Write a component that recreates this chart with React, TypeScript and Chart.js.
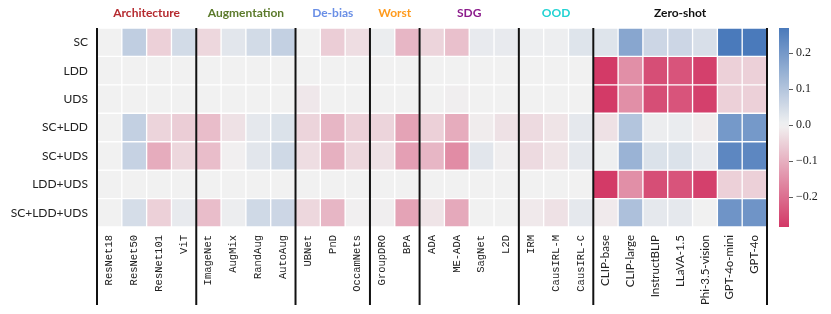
import React, { useEffect, useRef } from "react";
import { Chart, registerables } from "chart.js";
Chart.register(...registerables);

const rows = ["SC", "LDD", "UDS", "SC+LDD", "SC+UDS", "LDD+UDS", "SC+LDD+UDS"];
const models = [
  "ResNet18", "ResNet50", "ResNet101", "ViT",
  "ImageNet", "AugMix", "RandAug", "AutoAug",
  "UBNet", "PnD", "OccamNets",
  "GroupDRO", "BPA",
  "ADA", "ME-ADA", "SagNet", "L2D",
  "IRM", "CausIRL-M", "CausIRL-C",
  "CLIP-base", "CLIP-large", "InstructBLIP", "LLaVA-1.5", "Phi-3.5-vision", "GPT-4o-mini", "GPT-4o",
];
const groups = ["Architecture", "Augmentation", "De-bias", "Worst", "SDG", "OOD", "Zero-shot"];
const groupSizes = [4, 4, 3, 2, 4, 3, 7];
const groupColors = ["#b52a2f", "#5b7a2b", "#6a8fe6", "#ff9a1c", "#8c1c8c", "#22d3d3", "#111111"];
const zeroShotStart = 20;

const scRow = [0, 0.08, -0.05, 0.05, -0.04, 0.025, 0.05, 0.075, 0, -0.055, -0.03, 0.01, -0.09, -0.045, -0.075, 0.015, 0.015, 0.007, 0.007, 0.03, 0.03, 0.17, 0.06, 0.06, 0.04, 0.27, 0.27];
const lddRow = [0, 0, 0, 0, 0, 0, 0, 0, 0, 0, 0, 0, 0, 0, 0, 0, 0, 0, 0, 0, -0.28, -0.15, -0.25, -0.24, -0.27, -0.05, -0.05];
const udsRow = [0, 0, 0, 0, 0, 0, 0, 0, -0.015, 0, 0, 0, 0, 0, -0.005, 0, 0, 0, 0, 0, -0.28, -0.15, -0.25, -0.24, -0.27, -0.05, -0.05];
const scLddRow = [0, 0.075, -0.045, -0.055, -0.08, -0.025, 0.02, 0.035, -0.045, -0.09, -0.05, -0.045, -0.12, -0.05, -0.105, -0.008, -0.025, -0.035, -0.02, 0.02, -0.025, 0.1, 0.008, 0.012, -0.008, 0.2, 0.2];
const scUdsRow = [0, 0.07, -0.105, -0.04, -0.08, -0.003, 0.025, 0.055, -0.03, -0.1, -0.04, -0.025, -0.125, -0.09, -0.155, 0.025, -0.005, -0.035, -0.02, 0.02, 0.005, 0.14, 0.035, 0.035, 0.015, 0.24, 0.24];
const lddUdsRow = [0, 0, 0, 0, 0, 0, 0, 0, 0, 0, 0, 0, 0, 0, 0, 0, 0, 0, 0, 0, -0.28, -0.15, -0.25, -0.24, -0.27, -0.05, -0.05];
const allRow = [0, 0.045, -0.05, 0.015, -0.08, 0.008, 0.055, 0.06, -0.04, -0.09, -0.003, -0.005, -0.12, -0.02, -0.11, 0, 0, -0.012, -0.025, 0.02, -0.01, 0.11, 0.02, 0.02, 0, 0.21, 0.21];
const rowValues = [scRow, lddRow, udsRow, scLddRow, scUdsRow, lddUdsRow, allRow];

const colorbarTicks = [-0.2, -0.1, 0, 0.1, 0.2];
const vmin = -0.283;
const vmax = 0.27;

const NEG = [211, 56, 102];
const MID = [241, 241, 241];
const POS = [66, 116, 184];
function colorFor(v: number): string {
  const vr = 0.283;
  const t = Math.max(-1, Math.min(1, v / vr));
  const end = t < 0 ? NEG : POS;
  const a = Math.abs(t);
  const c = MID.map((m, i) => Math.round(m + (end[i] - m) * a));
  return `rgb(${c[0]},${c[1]},${c[2]})`;
}

const overlayPlugin = {
  id: "overlay",
  afterDraw(chart: any) {
    const { ctx, chartArea } = chart;
    const x = chart.scales.x;
    const w = (x.right - x.left) / models.length;
    ctx.save();
    let idx = 0;
    const bounds = [0];
    groupSizes.forEach((s) => { idx += s; bounds.push(idx); });
    ctx.strokeStyle = "#111";
    ctx.lineWidth = 2;
    bounds.forEach((b) => {
      const px = x.left + b * w;
      ctx.beginPath();
      ctx.moveTo(px, chartArea.top);
      ctx.lineTo(px, 305);
      ctx.stroke();
    });
    ctx.font = "bold 12px Lato";
    ctx.textAlign = "center";
    ctx.textBaseline = "middle";
    let start = 0;
    groups.forEach((g, i) => {
      const cx = x.left + (start + groupSizes[i] / 2) * w;
      ctx.fillStyle = groupColors[i];
      ctx.fillText(g, cx, 13);
      start += groupSizes[i];
    });
    ctx.restore();
  },
};

const gradientPlugin = {
  id: "cbgrad",
  beforeDatasetsDraw(chart: any) {
    const { ctx, chartArea } = chart;
    const y = chart.scales.y;
    const top = y.getPixelForValue(vmax);
    const bot = y.getPixelForValue(vmin);
    const g = ctx.createLinearGradient(0, top, 0, bot);
    const n = 40;
    for (let i = 0; i <= n; i++) {
      const v = vmax - (i / n) * (vmax - vmin);
      g.addColorStop(i / n, colorFor(v));
    }
    ctx.save();
    ctx.fillStyle = g;
    ctx.fillRect(chartArea.left, top, chartArea.right - chartArea.left, bot - top);
    ctx.restore();
  },
};

export default function App() {
  const mainRef = useRef<HTMLCanvasElement>(null);
  const cbRef = useRef<HTMLCanvasElement>(null);

  useEffect(() => {
    const datasets = rowValues.map((vals, r) => ({
      label: rows[r],
      data: vals.map(() => [rows.length - 1 - r, rows.length - r]),
      backgroundColor: vals.map(colorFor),
      borderColor: "#ffffff",
      borderWidth: 1,
      borderSkipped: false,
      grouped: false,
      barPercentage: 1,
      categoryPercentage: 1,
    }));
    const main = new Chart(mainRef.current!, {
      type: "bar",
      data: { labels: models, datasets: datasets as any },
      options: {
        animation: false,
        responsive: false,
        events: [],
        layout: { padding: { top: 28, right: 64, left: 0, bottom: 0 } },
        plugins: { legend: { display: false }, tooltip: { enabled: false } },
        scales: {
          x: {
            type: "category",
            grid: { display: false, drawTicks: false },
            border: { display: false },
            afterFit: (s: any) => { s.height = 87; },
            ticks: {
              autoSkip: false,
              maxRotation: 90,
              minRotation: 90,
              padding: 8,
              color: "#222",
              font: (ctx: any) =>
                ctx.index >= zeroShotStart
                  ? { family: "Lato", size: 11.5 }
                  : { family: "Liberation Mono", size: 10.5 },
            },
          },
          y: {
            type: "linear",
            min: 0,
            max: rows.length,
            grid: { display: false, drawTicks: false },
            border: { display: false },
            afterFit: (s: any) => { s.width = 97; },
            afterBuildTicks: (s: any) => {
              s.ticks = rows.map((_, i) => ({ value: i + 0.5 }));
            },
            ticks: {
              padding: 9,
              color: "#222",
              font: { family: "Lato", size: 12 },
              callback: (v: any) => rows[rows.length - 1 - Math.floor(Number(v))],
            },
          },
        },
      },
      plugins: [overlayPlugin],
    });

    const cb = new Chart(cbRef.current!, {
      type: "bar",
      data: { labels: [""], datasets: [] },
      options: {
        animation: false,
        responsive: false,
        events: [],
        layout: { padding: { top: 28, bottom: 87, left: 0, right: 0 } },
        plugins: { legend: { display: false }, tooltip: { enabled: false } },
        scales: {
          x: { display: false },
          y: {
            type: "linear",
            position: "right",
            min: vmin,
            max: vmax,
            afterFit: (s: any) => { s.width = 42; },
            afterBuildTicks: (s: any) => {
              s.ticks = colorbarTicks.map((v) => ({ value: v }));
            },
            grid: { display: true, drawOnChartArea: false, drawTicks: true, tickLength: 4, color: "#333", lineWidth: 0.8 },
            border: { display: false },
            ticks: {
              padding: 3,
              color: "#222",
              font: { family: "Liberation Serif", size: 12 },
              callback: (v: any) => {
                const n = Number(v);
                const s = Math.abs(n).toFixed(1);
                return n < -1e-9 ? "\u2212" + s : s;
              },
            },
          },
        },
      },
      plugins: [gradientPlugin],
    });

    return () => {
      main.destroy();
      cb.destroy();
    };
  }, []);

  return (
    <div style={{ position: "fixed", left: 0, top: 0, width: 831, height: 314, background: "#fff" }}>
      <canvas ref={mainRef} width={831} height={314} style={{ position: "absolute", left: 0, top: 0, width: 831, height: 314 }} />
      <canvas ref={cbRef} width={52} height={314} style={{ position: "absolute", left: 779, top: 0, width: 52, height: 314 }} />
    </div>
  );
}
